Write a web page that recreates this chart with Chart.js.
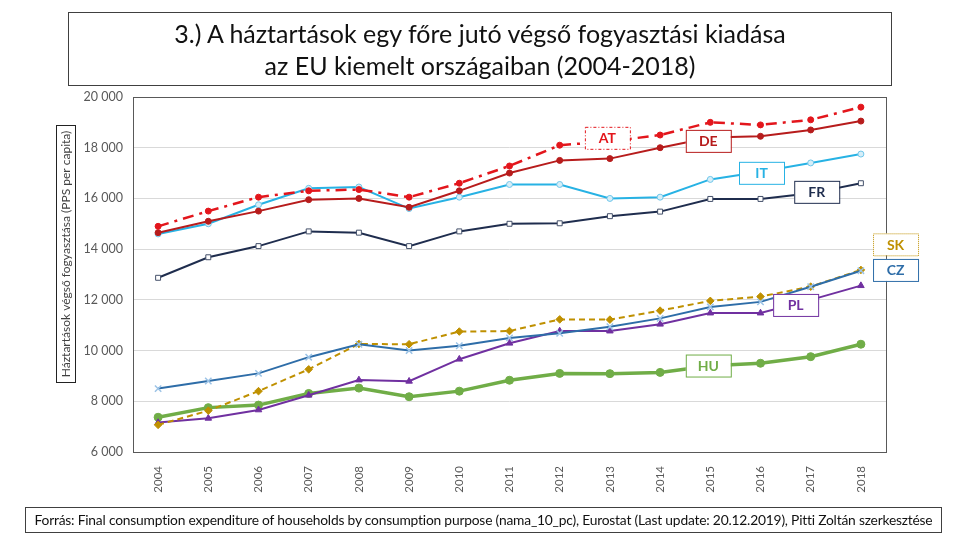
<!DOCTYPE html>
<html>
<head>
<meta charset="utf-8">
<script src="https://cdn.jsdelivr.net/npm/chart.js@4/dist/chart.umd.min.js"></script>
<style>
  body { margin: 0; background: #fff; font-family: Lato, sans-serif; }
  #wrap { position: relative; width: 960px; height: 540px; }
  #title {
    position: absolute; left: 68px; top: 12px; width: 822px; height: 68px;
    border: 1px solid #404040; text-align: center; font-size: 25px; line-height: 32px;
    color: #111; padding-top: 4px;
  }
  #source {
    position: absolute; left: 25px; top: 507px; width: 915px; height: 24px;
    border: 1px solid #404040; text-align: center; font-size: 13.8px; line-height: 24px; color: #111;
    letter-spacing: -0.2px;
  }
  canvas { position: absolute; left: 0; top: 0; }
</style>
</head>
<body>
<div id="wrap">
  <canvas id="chart" width="960" height="540"></canvas>
  <div id="title">3.) A háztartások egy főre jutó végső fogyasztási kiadása<br>az EU kiemelt országaiban (2004-2018)</div>
  <div id="source">Forrás: Final consumption expenditure of households by consumption purpose (nama_10_pc), Eurostat (Last update: 20.12.2019), Pitti Zoltán szerkesztése</div>
</div>
<script>
// values (PPS per capita)
const years = ['2004','2005','2006','2007','2008','2009','2010','2011','2012','2013','2014','2015','2016','2017','2018'];
const AT = [14900, 15500, 16050, 16300, 16350, 16050, 16600, 17280, 18100, 18250, 18500, 19000, 18900, 19100, 19600];
const DE = [14650, 15100, 15500, 15950, 16000, 15650, 16300, 17000, 17500, 17570, 18000, 18400, 18450, 18700, 19050];
const IT = [14600, 15000, 15750, 16400, 16450, 15600, 16050, 16550, 16550, 16000, 16050, 16750, 17050, 17400, 17750];
const FR = [12870, 13680, 14120, 14700, 14650, 14120, 14700, 15000, 15020, 15300, 15480, 15980, 15980, 16200, 16600];
const CZ = [8500, 8800, 9100, 9740, 10250, 10000, 10190, 10500, 10680, 10940, 11270, 11720, 11920, 12520, 13150];
const SK = [7070, 7630, 8400, 9260, 10260, 10250, 10750, 10770, 11230, 11220, 11575, 11960, 12130, 12520, 13180];
const PL = [7160, 7330, 7660, 8240, 8840, 8790, 9660, 10290, 10770, 10770, 11040, 11480, 11480, 12000, 12560];
const HU = [7370, 7750, 7850, 8310, 8520, 8180, 8400, 8830, 9100, 9090, 9140, 9400, 9500, 9760, 10250];

const yTitle = 'Háztartások végső fogyasztása (PPS per capita)';

// country name boxes: x as year index, y as value
const boxes = [
  { text: 'AT', x: 8.95, y: 18390, color: '#E3161C', dash: [3, 2, 1, 2] },
  { text: 'DE', x: 10.96, y: 18270, color: '#B71C1C', dash: [] },
  { text: 'IT', x: 12.02, y: 17010, color: '#27B2E4', dash: [] },
  { text: 'FR', x: 13.12, y: 16260, color: '#1F2D4E', dash: [] },
  { text: 'SK', x: 14.69, y: 14190, color: '#BF9000', dash: [1, 1] },
  { text: 'CZ', x: 14.69, y: 13180, color: '#2E6DA8', dash: [] },
  { text: 'PL', x: 12.70, y: 11800, color: '#7030A0', dash: [] },
  { text: 'HU', x: 10.96, y: 9410, color: '#70AD47', dash: [] }
];

function fmt(v) {
  return String(v).replace(/\B(?=(\d{3})+(?!\d))/g, ' ');
}

const extras = {
  id: 'extras',
  beforeDatasetsDraw(chart) {
    const { ctx, chartArea: a } = chart;
    ctx.save();
    ctx.strokeStyle = '#595959';
    ctx.lineWidth = 1;
    ctx.strokeRect(a.left + 0.5, a.top + 0.5, a.right - a.left, a.bottom - a.top);
    // y axis title in a box
    ctx.translate(66, 254);
    ctx.rotate(-Math.PI / 2);
    ctx.font = '12px Lato';
    ctx.fillStyle = '#404040';
    ctx.textAlign = 'center';
    ctx.textBaseline = 'middle';
    ctx.fillText(yTitle, 0, 0);
    ctx.strokeStyle = '#222';
    ctx.strokeRect(-128.5, -9.5, 257, 19);
    ctx.restore();
  },
  afterDatasetsDraw(chart) {
    const { ctx } = chart;
    const xs = chart.scales.x, ys = chart.scales.y;
    ctx.save();
    boxes.forEach(b => {
      const cx = xs.getPixelForValue(b.x), cy = ys.getPixelForValue(b.y);
      const w = 45, h = 22;
      ctx.fillStyle = '#fff';
      ctx.fillRect(cx - w / 2, cy - h / 2, w, h);
      ctx.setLineDash(b.dash);
      ctx.strokeStyle = b.color;
      ctx.lineWidth = 1;
      ctx.strokeRect(cx - w / 2 + 0.5, cy - h / 2 + 0.5, w, h);
      ctx.setLineDash([]);
      ctx.fillStyle = b.color;
      ctx.font = 'bold 14px Lato';
      ctx.textAlign = 'center';
      ctx.textBaseline = 'middle';
      ctx.fillText(b.text, cx, cy + 1);
    });
    ctx.restore();
  }
};

function line(label, data, color, opts) {
  return Object.assign({
    label: label,
    data: data,
    borderColor: color,
    backgroundColor: color,
    pointBorderColor: color,
    pointBackgroundColor: color,
    borderWidth: 2,
    pointRadius: 3,
    pointBorderWidth: 1,
    pointStyle: 'circle',
    tension: 0,
    fill: false
  }, opts || {});
}

new Chart(document.getElementById('chart').getContext('2d'), {
  type: 'line',
  data: {
    labels: years,
    datasets: [
      line('AT', AT, '#E3161C', { borderDash: [11, 6, 3, 6], borderWidth: 2.5 }),
      line('DE', DE, '#B71C1C'),
      line('IT', IT, '#27B2E4', { pointBackgroundColor: '#D6EEF8', pointBorderColor: '#6FC6EA' }),
      line('FR', FR, '#1F2D4E', { pointStyle: 'rect', pointBackgroundColor: '#fff', pointBorderColor: '#44506A', pointRadius: 3.5 }),
      line('CZ', CZ, '#2E6DA8', { pointStyle: 'crossRot', pointBorderColor: '#9CC3E6', pointRadius: 4.5, pointBorderWidth: 1.5 }),
      line('SK', SK, '#BF9000', { borderDash: [6, 4], pointStyle: 'rectRot', pointRadius: 3.8 }),
      line('PL', PL, '#7030A0', { pointStyle: 'triangle', pointRadius: 3.8 }),
      line('HU', HU, '#70AD47', { borderWidth: 3.5, pointRadius: 4 })
    ]
  },
  options: {
    responsive: false,
    animation: false,
    layout: { padding: { left: 0, right: 74, top: 97, bottom: 0 } },
    plugins: { legend: { display: false }, tooltip: { enabled: false } },
    scales: {
      x: {
        grid: { display: false },
        border: { display: false },
        offset: true,
        afterFit(s) { s.height = 88; },
        ticks: { minRotation: 90, maxRotation: 90, color: '#595959', font: { family: 'Lato', size: 11.5 }, padding: 6 }
      },
      y: {
        min: 6000,
        max: 20000,
        afterFit(s) { s.width = 133; },
        grid: { color: '#D9D9D9', drawTicks: false },
        border: { display: false },
        ticks: { stepSize: 2000, color: '#595959', font: { family: 'Lato', size: 12.5 }, padding: 10, callback: v => fmt(v) }
      }
    }
  },
  plugins: [extras]
});
</script>
</body>
</html>
